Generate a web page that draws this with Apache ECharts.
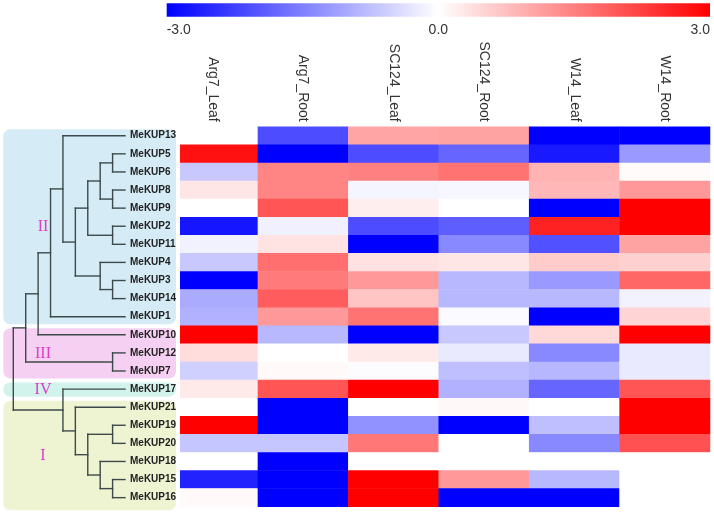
<!DOCTYPE html>
<html>
<head>
<meta charset="utf-8">
<script src="https://cdn.jsdelivr.net/npm/echarts@6/dist/echarts.min.js"></script>
<style>
html,body{margin:0;padding:0;background:#fff;}
#main{width:714px;height:515px;}
</style>
</head>
<body>
<div id="main"></div>
<script>
// ---------------- data ----------------
const columns = ['Arg7_Leaf', 'Arg7_Root', 'SC124_Leaf', 'SC124_Root', 'W14_Leaf', 'W14_Root'];
const genes = ['MeKUP13','MeKUP5','MeKUP6','MeKUP8','MeKUP9','MeKUP2','MeKUP11','MeKUP4','MeKUP3','MeKUP14','MeKUP1',
               'MeKUP10','MeKUP12','MeKUP7','MeKUP17','MeKUP21','MeKUP19','MeKUP20','MeKUP18','MeKUP15','MeKUP16'];

const arg7Leaf  = [0, 2.8, -0.65, 0.3, 0, -2.75, -0.15, -0.65, -3, -1.0, -0.92, 3, 0.4, -0.55, 0.25, 0, 3, -0.68, 0, -2.6, 0.07];
const arg7Root  = [-2.1, -3, 1.45, 1.45, 2.0, -0.18, 0.33, 1.7, 1.55, 1.9, 1.2, -0.83, 0, 0.07, 2.0, -3, -3, -0.68, -3, -3, -3];
const sc124Leaf = [1.06, -2.1, 1.5, -0.12, 0.2, -2.1, -3, 0.35, 1.2, 0.68, 1.65, -3, 0.25, -0.03, 3, 0, -1.3, 1.6, 0, 3, 3];
const sc124Root = [1.1, -1.8, 1.65, -0.1, 0, -1.9, -1.4, 0.3, -0.83, -0.83, -0.05, -0.65, -0.25, -0.75, -0.92, 0.08, -3, 0, 0, 1.2, -3];
const w14Leaf   = [-3, -2.7, 0.9, 0.85, -3, 2.6, -2.05, 0.6, -1.2, -0.83, -3, 0.46, -1.4, -0.85, -1.8, 0, -0.75, -1.4, 0, -0.83, -3];
const w14Root   = [-3, -1.2, 0.05, 1.2, 3, 3, 1.1, 0.55, 1.8, -0.15, 0.5, 3, -0.25, -0.25, 2.0, 3, 3, 2.05, 0, 0, 0];

const scaleMin = -3, scaleMax = 3, scaleStep = 3;

// dendrogram: [height, child1, child2]
const tree = [9,
  [8,
    [7,
      [6,
        [5, 'MeKUP13',
          [4,
            [3, [2, [1, 'MeKUP5', 'MeKUP6'], [1, 'MeKUP8', 'MeKUP9']], [1, 'MeKUP2', 'MeKUP11']],
            [2, 'MeKUP4', [1, 'MeKUP3', 'MeKUP14']]
          ]
        ],
        'MeKUP1'
      ],
      'MeKUP10'
    ],
    [1, 'MeKUP12', 'MeKUP7']
  ],
  [5, 'MeKUP17', [4, 'MeKUP21', [3, [1, 'MeKUP19', 'MeKUP20'], [2, 'MeKUP18', [1, 'MeKUP15', 'MeKUP16']]]]]
];

// groups: label, first gene, last gene
const groupLabels = ['II', 'III', 'IV', 'I'];
const groupFirst  = ['MeKUP13', 'MeKUP10', 'MeKUP17', 'MeKUP21'];
const groupLast   = ['MeKUP1', 'MeKUP7', 'MeKUP17', 'MeKUP16'];

// ---------------- styles ----------------
const groupColors = ['#d5ecf6', '#f6d0f2', '#d2f3ec', '#eef3d2'];
const groupBottomExtra = [0, 0, 0, 5];
const romanColor = '#dd3cc6';
const lineColor = '#3d4a4a';

// ---------------- build ----------------
const colArrays = [arg7Leaf, arg7Root, sc124Leaf, sc124Root, w14Leaf, w14Root];
const heatData = [];
colArrays.forEach((arr, ci) => arr.forEach((v, ri) => heatData.push([ci, ri, v])));

const segs = [];
function layout(node) {
  if (typeof node === 'string') return { h: 0, y: genes.indexOf(node) };
  const h = node[0];
  const kids = node.slice(1).map(layout);
  const y = kids.reduce((s, k) => s + k.y, 0) / kids.length;
  segs.push([h, kids[0].y, h, kids[kids.length - 1].y]);
  kids.forEach(k => segs.push([h, k.y, k.h, k.y]));
  return { h, y };
}
layout(tree);

const groupData = groupLabels.map((g, i) => [genes.indexOf(groupFirst[i]), genes.indexOf(groupLast[i]), i]);

const TOP = 126.7, HM_H = 380, HM_LEFT = 167.5;

const chart = echarts.init(document.getElementById('main'), null, { renderer: 'canvas' });
chart.setOption({
  animation: false,
  backgroundColor: '#ffffff',
  grid: [
    { left: HM_LEFT, right: 4, top: TOP, height: HM_H },
    { left: 13.3, width: 111.7, top: TOP, height: HM_H },
    { left: 166.7, right: 4, top: 3.3, height: 13.4, show: true, borderWidth: 0,
      backgroundColor: new echarts.graphic.LinearGradient(0, 0, 1, 0, [
        { offset: 0, color: '#0000ff' }, { offset: 0.5, color: '#ffffff' }, { offset: 1, color: '#ff0000' }]) }
  ],
  xAxis: [
    { gridIndex: 0, type: 'category', data: columns, position: 'top',
      axisLine: { show: false }, axisTick: { show: false }, splitLine: { show: false },
      axisLabel: { rotate: 90, margin: 5, fontSize: 14, color: '#333', interval: 0, fontFamily: 'Liberation Sans, Arial' } },
    { gridIndex: 1, type: 'value', min: 0, max: 9, inverse: true, show: false },
    { gridIndex: 2, type: 'value', min: scaleMin, max: scaleMax, interval: scaleStep, position: 'bottom',
      axisLine: { show: false }, axisTick: { show: false }, splitLine: { show: false },
      axisLabel: { margin: 6, fontSize: 14, color: '#333', fontFamily: 'Liberation Sans, Arial',
        alignMinLabel: 'left', alignMaxLabel: 'right', formatter: v => v.toFixed(1) } }
  ],
  yAxis: [
    { gridIndex: 0, type: 'category', data: genes, inverse: true, z: 10,
      axisLine: { show: false }, axisTick: { show: false }, splitLine: { show: false },
      axisLabel: { align: 'left', margin: HM_LEFT - 130, fontSize: 10, fontWeight: 'bold', color: '#222',
        interval: 0, fontFamily: 'Liberation Sans, Arial' } },
    { gridIndex: 1, type: 'value', min: -0.5, max: genes.length - 0.5, inverse: true, show: false },
    { gridIndex: 2, type: 'category', data: [''], show: false }
  ],
  visualMap: {
    show: false, type: 'continuous', seriesIndex: 0, min: scaleMin, max: scaleMax,
    inRange: { color: ['#0000ff', '#ffffff', '#ff0000'] }
  },
  graphic: [
    { type: 'rect', z: 2, shape: { x: HM_LEFT - 1, y: TOP - 1, width: 180 - HM_LEFT + 1, height: HM_H + 2 },
      style: { fill: '#ffffff' } }
  ],
  series: [
    { type: 'heatmap', xAxisIndex: 0, yAxisIndex: 0, data: heatData, z: 1,
      itemStyle: { borderWidth: 0 }, emphasis: { disabled: true } },
    { type: 'custom', xAxisIndex: 1, yAxisIndex: 1, z: 3, data: groupData, clip: false,
      encode: { y: [0, 1] },
      renderItem: (params, api) => {
        const i = api.value(2);
        const top = api.coord([0, api.value(0) - 0.5])[1] + 2.5;
        const bot = api.coord([0, api.value(1) + 0.5])[1] - 1.5 + groupBottomExtra[i];
        return { type: 'group', children: [
          { type: 'rect', shape: { x: 3.3, y: top, width: 176 - 3.3, height: bot - top, r: 7 },
            style: { fill: groupColors[i] } },
          { type: 'text', style: { text: groupLabels[i], x: 43, y: (top + bot) / 2, align: 'center',
              verticalAlign: 'middle', fill: romanColor, font: '16px "Liberation Serif", serif' } }
        ] };
      } },
    { type: 'custom', xAxisIndex: 1, yAxisIndex: 1, z: 4, data: segs, clip: false,
      encode: { x: [0, 2], y: [1, 3] },
      renderItem: (params, api) => {
        const p1 = api.coord([api.value(0), api.value(1)]);
        const p2 = api.coord([api.value(2), api.value(3)]);
        return { type: 'line', shape: { x1: p1[0], y1: p1[1], x2: p2[0], y2: p2[1] },
          style: { stroke: lineColor, lineWidth: 1.4, lineCap: 'square' } };
      } }
  ]
});
</script>
</body>
</html>
